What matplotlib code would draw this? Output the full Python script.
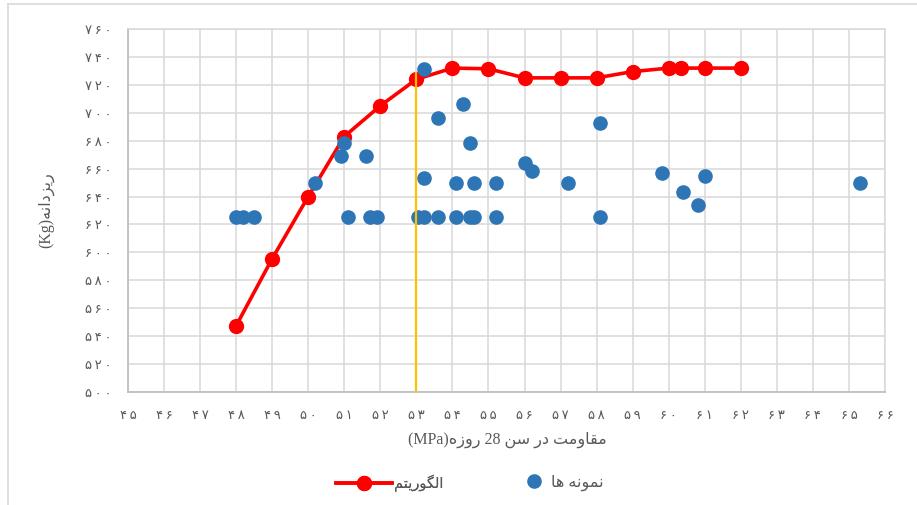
import matplotlib.pyplot as plt
from matplotlib.lines import Line2D
import numpy as np

# Algorithm curve: fine aggregate (Kg) against 28-day strength (MPa)
algo_strength = [48, 49, 50, 51, 52, 53, 54, 55, 56, 57, 58, 59, 60, 60.35, 61, 62]
algo_fines = [547.5, 595.5, 640, 683, 705, 724, 732, 731.5, 725, 725, 725, 729.5, 732, 732, 732, 732]

# measured samples
sample_strength = [48.0, 48.2, 48.5, 50.2, 50.9, 51.0, 51.1, 51.6, 51.7, 51.9,
                   53.05, 53.2, 53.2, 53.2, 53.6, 53.6, 54.1, 54.1, 54.3,
                   54.5, 54.5, 54.6, 54.6, 55.2, 55.2, 56.0, 56.2, 57.2,
                   58.1, 58.1, 59.8, 60.4, 60.8, 61.0, 65.3]
sample_fines = [625, 625, 625, 650, 669, 678, 625, 669, 625, 625,
                625, 625, 653, 731, 696, 625, 650, 625, 706,
                678, 625, 650, 625, 650, 625, 664, 658, 650,
                693, 625, 657, 643.5, 634, 655, 650]

optimum_strength = 53
optimum_top = 729

x_ticks = np.arange(45, 67)
y_ticks = np.arange(500, 761, 20)

# Persian digits for tick labels, slightly spaced out
fa_digits = str.maketrans("0123456789", "۰۱۲۳۴۵۶۷۸۹")
def fa(n):
    return "\u2009".join(str(n).translate(fa_digits))

# Persian strings, shaped and in visual order
x_label = "(MPa)" + "\uFEE9\uFEAF\uFEED\uFEAD" + " 28 " + "\uFEE6\uFEB3" + " " + "\uFEAD\uFEA9" + " " + "\uFE96\uFEE3\uFEED\uFE8E\uFED8\uFEE3"
y_label = "(Kg)" + "\uFEEA\uFEE7\uFE8D\uFEA9\uFEB0\uFEF3\uFEAD"
algo_name = "\uFEE2\uFE98\uFEF3\uFEAD\uFEEE\uFB95\uFEDF\uFE8D"
sample_name = "\uFE8E\uFEEB \uFEEA\uFEE7\uFEEE\uFEE4\uFEE7"

fam = ["Liberation Serif", "DejaVu Sans"]
grey = "#595959"

fig = plt.figure(figsize=(9.17, 5.05), dpi=100)
ax = fig.add_axes([128/917, 1-392/505, (885-128)/917, (392-29)/505])

ax.plot(algo_strength, algo_fines, color="#FF0000", lw=2.6, marker="o", ms=10,
        zorder=3, label=algo_name)
ax.plot(sample_strength, sample_fines, ls="none", marker="o", ms=9.5,
        color="#2E75B6", zorder=4, label=sample_name)
ax.vlines(optimum_strength, 500, optimum_top, color="#FFC000", lw=1.6, zorder=5)

ax.set_xlim(45, 66)
ax.set_ylim(500, 760)
ax.set_xticks(x_ticks)
ax.set_xticklabels([fa(v) for v in x_ticks], family="DejaVu Sans", fontsize=9.5, color=grey)
ax.set_yticks(y_ticks)
ax.set_yticklabels([fa(v) for v in y_ticks], family="DejaVu Sans", fontsize=9.5, color=grey)
ax.tick_params(length=0, pad=12)
ax.grid(True, color="#D9D9D9", lw=1.1)
ax.set_axisbelow(True)
for side in ["top", "right"]:
    ax.spines[side].set_color("#D9D9D9")
    ax.spines[side].set_linewidth(1.1)
for side in ["left", "bottom"]:
    ax.spines[side].set_color("#BFBFBF")
    ax.spines[side].set_linewidth(1.3)

fig.text(507/917, 1-440/505, x_label, ha="center", va="center", family=fam,
         fontsize=11.5, color=grey)
fig.text(46/917, 1-210/505, y_label, ha="center", va="center", rotation=90,
         family=fam, fontsize=11.5, color=grey)

# legends
h_algo, h_samp = ax.get_legend_handles_labels()[0]
leg1 = fig.legend([h_algo], [algo_name], loc="center", bbox_to_anchor=(390/917, 1-483/505),
                  frameon=False, handlelength=3.8, handletextpad=0.2,
                  prop={"family": fam, "size": 10.5}, labelcolor=grey)
leg2 = fig.legend([h_samp], [sample_name], loc="center", bbox_to_anchor=(565/917, 1-483/505),
                  frameon=False, handlelength=1.0, handletextpad=0.6,
                  prop={"family": fam, "size": 11.5}, labelcolor=grey)
fig.add_artist(leg1)

# outer chart border
fig.add_artist(Line2D([8/917, 1], [1-4/505, 1-4/505], color="#D9D9D9", lw=1.2))
fig.add_artist(Line2D([8/917, 8/917], [0, 1-4/505], color="#D9D9D9", lw=1.2))

fig.savefig("out.png", dpi=100)
plt.close()
